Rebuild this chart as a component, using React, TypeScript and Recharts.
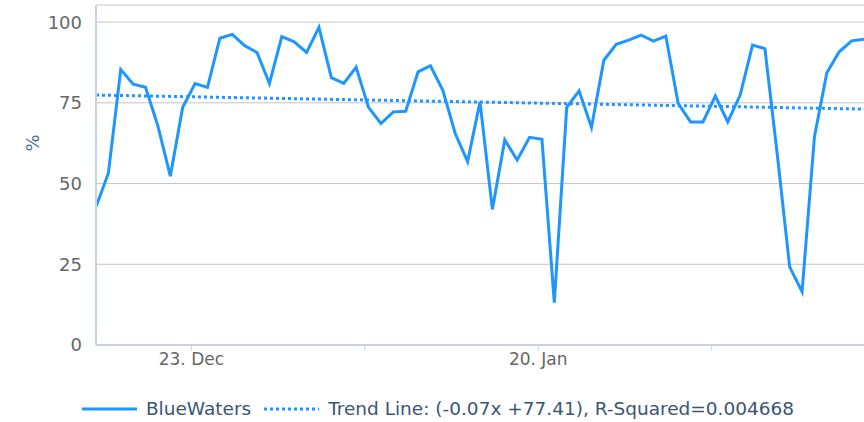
import { CartesianGrid, Legend, Line, LineChart, XAxis, YAxis } from "recharts";

// daily availability readings, one per day
const blueWaters: number[] = [
  42.8, 53.2, 85.3, 80.8, 79.8, 67.8, 52.3, 73.6, 81.0, 79.8,
  95.0, 96.2, 92.7, 90.6, 81.0, 95.5, 93.9, 90.6, 98.4, 82.8,
  81.0, 86.0, 73.6, 68.6, 72.2, 72.4, 84.6, 86.5, 78.9, 65.5,
  56.8, 75.3, 42.0, 63.5, 57.3, 64.3, 63.7, 13.1, 73.6, 78.7,
  67.4, 88.2, 93.1, 94.4, 96.0, 94.1, 95.7, 74.8, 69.1, 69.1,
  77.1, 69.1, 77.4, 92.9, 91.8, 59.0, 24.2, 16.5, 64.5, 84.3,
  90.8, 94.2, 94.7,
];

// trend line end points
const trendStart = 77.41;
const trendEnd = 73.07;

const xTickDays = [7.7, 21.7, 35.7, 49.7];
const xTickLabels = ["23. Dec", "", "20. Jan", ""];
const yTicks = [0, 25, 50, 75, 100];

const seriesName = "BlueWaters";
const trendName = "Trend Line: (-0.07x +77.41), R-Squared=0.004668";

const chartData = blueWaters.map((value, i) => ({
  day: i,
  value,
  trend: i === 0 ? trendStart : i === blueWaters.length - 1 ? trendEnd : null,
}));

const lineColor = "#1e96ff";
const axisColor = "#c5d5e6";
const font = "'DejaVu Sans', sans-serif";

function ChartLegend() {
  return (
    <div
      style={{
        height: 47,
        display: "flex",
        justifyContent: "center",
        alignItems: "flex-end",
        fontFamily: font,
        fontSize: 18.5,
        color: "#3a5573",
        paddingLeft: 12,
      }}
    >
      <div style={{ display: "flex", alignItems: "center", lineHeight: "24px", marginBottom: 1 }}>
        <svg width={55} height={6} style={{ marginRight: 9 }}>
          <line x1={0} y1={3} x2={55} y2={3} stroke={lineColor} strokeWidth={3} />
        </svg>
        <span style={{ marginRight: 12 }}>{seriesName}</span>
        <svg width={56} height={6} style={{ marginRight: 9 }}>
          <line x1={1} y1={3} x2={56} y2={3} stroke={lineColor} strokeWidth={3} strokeDasharray="3 3" />
        </svg>
        <span>{trendName}</span>
      </div>
    </div>
  );
}

export default function App() {
  return (
    <div style={{ position: "absolute", left: 0, top: 0, fontFamily: font, background: "#fff" }}>
      <LineChart
        width={864}
        height={422}
        data={chartData}
        margin={{ top: 5, right: 0, left: 0, bottom: 0 }}
        accessibilityLayer={false}
      >
        <CartesianGrid vertical={false} stroke="#c4c4c4" />
        <XAxis
          dataKey="day"
          type="number"
          domain={[0, blueWaters.length - 1]}
          ticks={xTickDays}
          tickFormatter={(v: number) => xTickLabels[xTickDays.indexOf(v)] ?? ""}
          height={30}
          axisLine={{ stroke: axisColor, strokeWidth: 2 }}
          tickLine={{ stroke: axisColor }}
          tickSize={6}
          tick={{ fill: "#666666", fontSize: 17 }}
          allowDataOverflow
        />
        <YAxis
          type="number"
          domain={[0, 105.3]}
          ticks={yTicks}
          width={96}
          axisLine={{ stroke: axisColor, strokeWidth: 2 }}
          tickLine={false}
          tickMargin={8}
          tick={{ fill: "#666666", fontSize: 18 }}
          allowDataOverflow
          label={{
            content: () => (
              <text
                x={32}
                y={143}
                transform="rotate(-90 32 143)"
                textAnchor="middle"
                dominantBaseline="central"
                fill="#4f6e92"
                fontSize={18}
                fontFamily={font}
              >
                %
              </text>
            ),
          }}
        />
        <Legend verticalAlign="bottom" content={() => <ChartLegend />} />
        <Line
          dataKey="trend"
          stroke={lineColor}
          strokeWidth={3}
          strokeDasharray="3 3"
          dot={false}
          connectNulls
          isAnimationActive={false}
        />
        <Line
          dataKey="value"
          stroke={lineColor}
          strokeWidth={3}
          dot={false}
          isAnimationActive={false}
        />
      </LineChart>
    </div>
  );
}
